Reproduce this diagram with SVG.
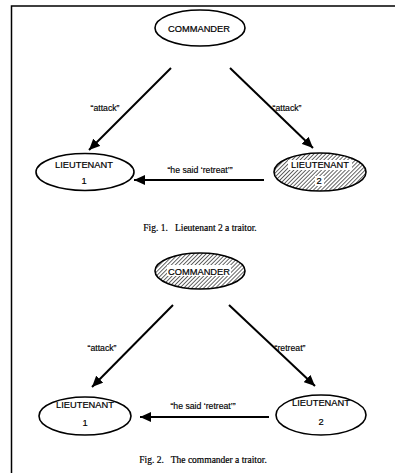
<svg xmlns="http://www.w3.org/2000/svg" width="395" height="473" viewBox="0 0 395 473">
<style>
.node{fill:#fff;stroke:#000;stroke-width:1.6}
.hatch{fill:url(#hatch);stroke:#000;stroke-width:1.6}
.lbl{font-family:"Liberation Sans",Arial,sans-serif;font-size:9.3px;fill:#000;stroke:#000;stroke-width:0.2;text-anchor:middle}
.elbl{font-family:"Liberation Sans",Arial,sans-serif;font-size:8.7px;fill:#000;stroke:#000;stroke-width:0.15;text-anchor:middle}
.cap{font-family:"Liberation Serif","Times New Roman",serif;font-size:9.5px;fill:#000;stroke:#000;stroke-width:0.2;text-anchor:middle;white-space:pre}
.edge{stroke:#000;stroke-width:2;fill:none;marker-end:url(#arr)}
.wb{fill:#fff}
</style>
<defs>
<pattern id="hatch" patternUnits="userSpaceOnUse" width="2.8" height="2.8" patternTransform="rotate(45)">
<rect width="2.8" height="2.8" fill="#fff"/>
<line x1="0" y1="0" x2="0" y2="2.8" stroke="#000" stroke-width="1.2"/>
</pattern>
<marker id="arr" markerUnits="userSpaceOnUse" markerWidth="12" markerHeight="10" refX="11" refY="5" orient="auto">
<path d="M0,0 L11,5 L0,10 Z" fill="#000"/>
</marker>
</defs>
<rect width="395" height="473" fill="#fff"/>
<path d="M11.5,473 V6 H395" fill="none" stroke="#000" stroke-width="1.5"/>

<g id="connectors">
<line class="edge" x1="171" y1="68" x2="89" y2="150"/>
<line class="edge" x1="230" y1="68" x2="313" y2="148"/>
<line class="edge" x1="264" y1="180" x2="134" y2="180"/>
<line class="edge" x1="173" y1="305" x2="92" y2="387"/>
<line class="edge" x1="229" y1="305" x2="315" y2="386"/>
<line class="edge" x1="269" y1="417" x2="140" y2="417"/>
<text class="elbl" x="105" y="111">“attack”</text>
<text class="elbl" x="287" y="111">“attack”</text>
<text class="elbl" x="200" y="173">“he said ‘retreat’”</text>
<text class="elbl" x="102" y="351">“attack”</text>
<text class="elbl" x="290" y="351">“retreat”</text>
<text class="elbl" x="203" y="409">“he said ‘retreat’”</text>
</g>

<g id="fig1-commander">
<ellipse class="node" cx="200" cy="28" rx="45" ry="18"/>
<text class="lbl" x="199" y="31.5">COMMANDER</text>
</g>
<g id="fig1-lieutenant1">
<ellipse class="node" cx="85" cy="172" rx="49" ry="18.5"/>
<text class="lbl" x="84" y="168">LIEUTENANT</text>
<text class="lbl" x="84" y="184">1</text>
</g>
<g id="fig1-lieutenant2">
<ellipse class="hatch" cx="320" cy="172" rx="46" ry="19"/>
<rect class="wb" x="288" y="160" width="64" height="10"/>
<rect class="wb" x="315" y="176" width="9" height="10"/>
<text class="lbl" x="320" y="168">LIEUTENANT</text>
<text class="lbl" x="319" y="184">2</text>
</g>
<text class="cap" x="200" y="231">Fig. 1.   Lieutenant 2 a traitor.</text>

<g id="fig2-commander">
<ellipse class="hatch" cx="200" cy="271" rx="45" ry="18"/>
<rect class="wb" x="167" y="265" width="64" height="11"/>
<text class="lbl" x="199" y="274.5">COMMANDER</text>
</g>
<g id="fig2-lieutenant1">
<ellipse class="node" cx="85" cy="416" rx="46" ry="19"/>
<text class="lbl" x="85" y="408">LIEUTENANT</text>
<text class="lbl" x="85" y="426">1</text>
</g>
<g id="fig2-lieutenant2">
<ellipse class="node" cx="321" cy="415" rx="45" ry="20"/>
<text class="lbl" x="321" y="406">LIEUTENANT</text>
<text class="lbl" x="321" y="425">2</text>
</g>
<text class="cap" x="203" y="463">Fig. 2.   The commander a traitor.</text>
</svg>
